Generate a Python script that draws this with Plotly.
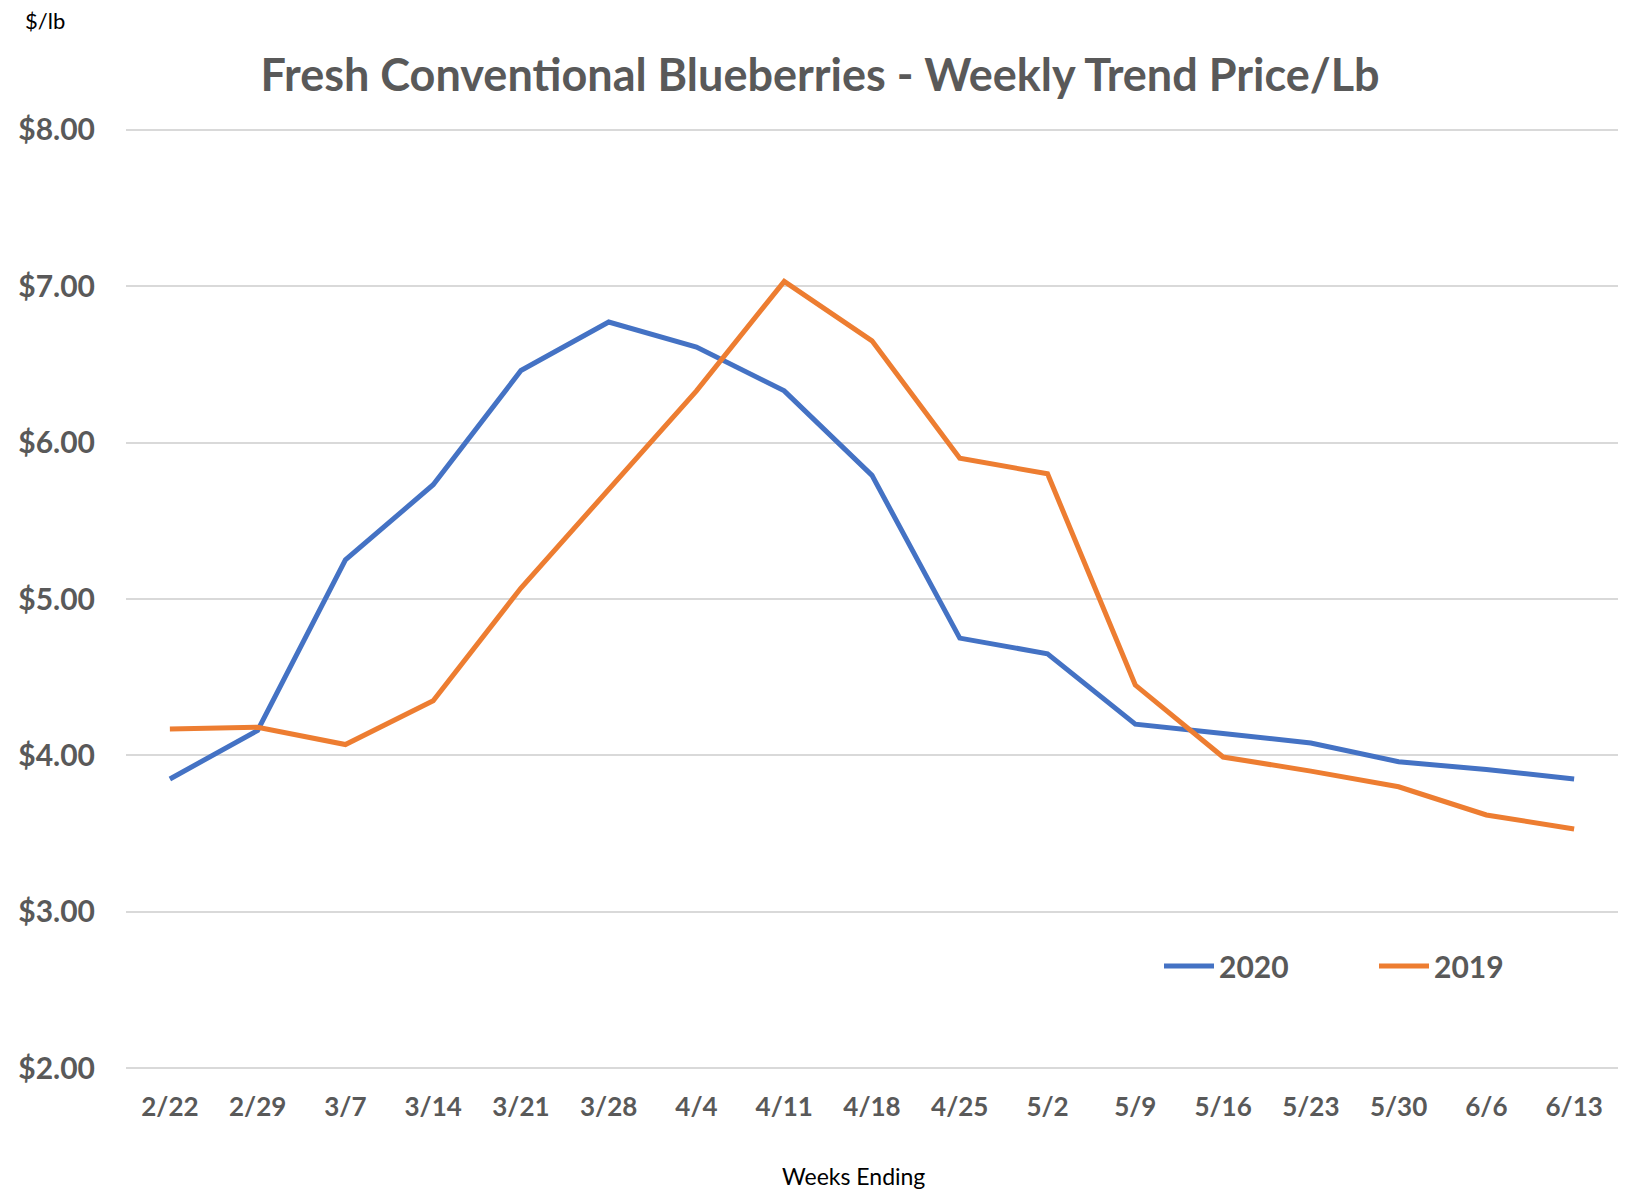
import plotly.graph_objects as go

weeks = ["2/22", "2/29", "3/7", "3/14", "3/21", "3/28", "4/4", "4/11", "4/18",
         "4/25", "5/2", "5/9", "5/16", "5/23", "5/30", "6/6", "6/13"]
price_2020 = [3.85, 4.16, 5.25, 5.73, 6.46, 6.77, 6.61, 6.33, 5.79,
              4.75, 4.65, 4.20, 4.14, 4.08, 3.96, 3.91, 3.85]
price_2019 = [4.17, 4.18, 4.07, 4.35, 5.07, 5.70, 6.33, 7.03, 6.65,
              5.90, 5.80, 4.45, 3.99, 3.90, 3.80, 3.62, 3.53]
y_ticks = [2, 3, 4, 5, 6, 7, 8]
y_tick_labels = ["$2.00", "$3.00", "$4.00", "$5.00", "$6.00", "$7.00", "$8.00"]

GRAY = "#595959"
FONT = "Lato"

W, H = 1627, 1190
L, R, T, B = 126, 9, 128, 120
PW, PH = W - L - R, H - T - B


def px_x(x):
    return (x - L) / PW


def px_y(y):
    return (H - B - y) / PH


fig = go.Figure()
fig.add_trace(go.Scatter(x=weeks, y=price_2020, mode="lines", name="2020",
                         line=dict(color="#4472C4", width=5)))
fig.add_trace(go.Scatter(x=weeks, y=price_2019, mode="lines", name="2019",
                         line=dict(color="#ED7D31", width=5)))

fig.update_layout(
    width=W, height=H,
    margin=dict(l=L, r=R, t=T, b=B, autoexpand=False),
    paper_bgcolor="white", plot_bgcolor="white",
    font=dict(family=FONT, color=GRAY),
    title=dict(text="<b>Fresh Conventional Blueberries - Weekly Trend Price/Lb</b>",
               x=0.504, xref="container", xanchor="center",
               y=1 - 75 / H, yref="container", yanchor="middle",
               font=dict(family=FONT, size=45, color=GRAY)),
    showlegend=True,
    legend=dict(orientation="h", x=px_x(1159), y=px_y(966), xanchor="left", yanchor="middle",
                xref="paper", yref="paper",
                font=dict(family=FONT, size=30, color=GRAY, weight="bold"),
                entrywidth=150, entrywidthmode="pixels", itemwidth=50,
                bgcolor="rgba(0,0,0,0)"),
    xaxis=dict(type="category", range=[-0.5, 16.5], showgrid=False, zeroline=False,
               showline=False, ticks="",
               tickfont=dict(family=FONT, size=26, color=GRAY, weight="bold"),
               ticklabelstandoff=19, fixedrange=True),
    yaxis=dict(range=[1.99, 8.01], tickvals=y_ticks, ticktext=y_tick_labels,
               showgrid=True, gridcolor="#D9D9D9", gridwidth=1.5,
               zeroline=False, showline=False, ticks="",
               tickfont=dict(family=FONT, size=30, color=GRAY, weight="bold"),
               ticklabelstandoff=30, fixedrange=True),
    annotations=[
        dict(text="$/lb", x=px_x(23), y=px_y(21), xref="paper", yref="paper",
             showarrow=False, xanchor="left", yanchor="middle",
             font=dict(family=FONT, size=22, color="black")),
        dict(text="Weeks Ending", x=px_x(853), y=px_y(1176),
             xref="paper", yref="paper", showarrow=False,
             xanchor="center", yanchor="middle",
             font=dict(family=FONT, size=23, color="black")),
    ],
)

fig.write_html("out.html", config={"displayModeBar": False},
               post_script="document.body.style.margin='0';document.body.style.overflow='hidden';")
